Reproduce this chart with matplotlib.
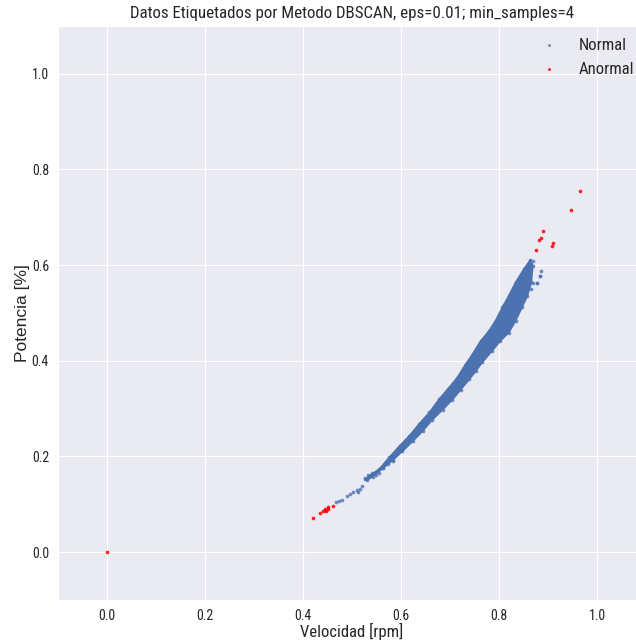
import matplotlib
matplotlib.use("Agg")
import matplotlib.pyplot as plt
from matplotlib import font_manager
import seaborn as sns

# Dense core of the "Normal" cluster: upper-left and lower-right edges of the band
band_upper_x = [0.527, 0.536, 0.556, 0.576, 0.597, 0.617, 0.637, 0.658, 0.678, 0.698, 0.715,
                0.732, 0.746, 0.763, 0.780, 0.793, 0.807, 0.820, 0.834, 0.851, 0.864]
band_upper_y = [0.152, 0.160, 0.174, 0.198, 0.222, 0.243, 0.268, 0.292, 0.320, 0.344, 0.365,
                0.393, 0.414, 0.442, 0.463, 0.484, 0.512, 0.536, 0.564, 0.592, 0.611]
band_lower_x = [0.530, 0.542, 0.563, 0.583, 0.603, 0.624, 0.644, 0.664, 0.685, 0.705, 0.722,
                0.739, 0.753, 0.766, 0.786, 0.803, 0.820, 0.834, 0.847, 0.858, 0.866, 0.869]
band_lower_y = [0.150, 0.158, 0.175, 0.192, 0.211, 0.232, 0.253, 0.277, 0.298, 0.319, 0.340,
                0.361, 0.379, 0.397, 0.421, 0.442, 0.459, 0.484, 0.512, 0.536, 0.564, 0.599]

# Sparse "Normal" points (lower tail and stragglers around the band)
normal_x = [0.467, 0.474, 0.479, 0.489, 0.496, 0.503, 0.511, 0.516, 0.513, 0.520, 0.527,
            0.533, 0.540, 0.549, 0.556, 0.564, 0.574, 0.584, 0.588, 0.663, 0.765, 0.810,
            0.865, 0.869, 0.877, 0.878, 0.883, 0.884, 0.886, 0.870]
normal_y = [0.104, 0.106, 0.109, 0.118, 0.121, 0.125, 0.130, 0.133, 0.126, 0.138, 0.156,
            0.161, 0.165, 0.161, 0.165, 0.177, 0.184, 0.191, 0.208, 0.292, 0.439, 0.517,
            0.550, 0.563, 0.563, 0.562, 0.577, 0.578, 0.587, 0.608]

# Points labelled as noise by DBSCAN
anomal_x = [0.000, 0.420, 0.435, 0.441, 0.444, 0.447, 0.450, 0.452, 0.4455, 0.461,
            0.876, 0.881, 0.885, 0.889, 0.908, 0.911, 0.947, 0.966]
anomal_y = [0.000, 0.0717, 0.081, 0.0856, 0.0883, 0.0862, 0.0912, 0.094, 0.091, 0.096,
            0.632, 0.653, 0.656, 0.672, 0.640, 0.647, 0.715, 0.755]

x_ticks = [0.0, 0.2, 0.4, 0.6, 0.8, 1.0]
y_ticks = [0.0, 0.2, 0.4, 0.6, 0.8, 1.0]

sns.set_style("darkgrid")

# prefer a condensed sans face for horizontal text when one is available
installed = {f.name for f in font_manager.fontManager.ttflist}
narrow = [f for f in ["Liberation Sans Narrow", "Roboto Condensed", "Open Sans Condensed"]
          if f in installed]
condensed = bool(narrow)
narrow = narrow + ["Liberation Sans", "DejaVu Sans"]
regular = ["Liberation Sans", "DejaVu Sans"]
plt.rcParams["font.family"] = narrow

# sizes depend on whether a condensed face was found
sz_title = 12.2 if condensed else 10.6
sz_xlabel = 12 if condensed else 10.6
sz_tick = 10 if condensed else 8.5
sz_leg = 12 if condensed else 10.5

blue = "#4C72B0"
fig = plt.figure(figsize=(6.36, 6.43), dpi=100)
ax = fig.add_axes([58 / 636, 43 / 643, 588 / 636, 574 / 643])

# dense band
poly_x = band_upper_x + band_lower_x[::-1]
poly_y = band_upper_y + band_lower_y[::-1]
ax.fill(poly_x, poly_y, color=blue, lw=1.2, ec=blue, zorder=2)
ax.scatter(band_upper_x + band_lower_x, band_upper_y + band_lower_y, s=7, color=blue,
           alpha=0.8, lw=0, zorder=2)
ax.scatter(normal_x, normal_y, s=7, color=blue, alpha=0.8, lw=0, zorder=2, label="Normal")
ax.scatter(anomal_x, anomal_y, s=7, color="red", alpha=0.85, lw=0, zorder=3, label="Anormal")

ax.set_xlim(-0.1, 1.1)
ax.set_ylim(-0.1, 1.1)
ax.set_xticks(x_ticks)
ax.set_yticks(y_ticks)
ax.tick_params(labelsize=sz_tick, colors=".15", pad=3)
ax.set_title("Datos Etiquetados por Metodo DBSCAN, eps=0.01; min_samples=4",
             fontsize=sz_title, color=".15", pad=6)
ax.set_xlabel("Velocidad [rpm]", fontsize=sz_xlabel, color=".15")
ax.set_ylabel("Potencia [%]", fontsize=12.5, color=".15", family=regular)
ax.xaxis.set_label_coords(0.5, -0.040)
ax.yaxis.set_label_coords(-0.047, 0.5)
leg = ax.legend(loc="upper right", fontsize=sz_leg, frameon=False, markerscale=0.8,
                handletextpad=0.8, labelspacing=0.55, borderaxespad=0.3)
for t in leg.get_texts():
    t.set_color(".15")

fig.savefig("out.png", dpi=100)
